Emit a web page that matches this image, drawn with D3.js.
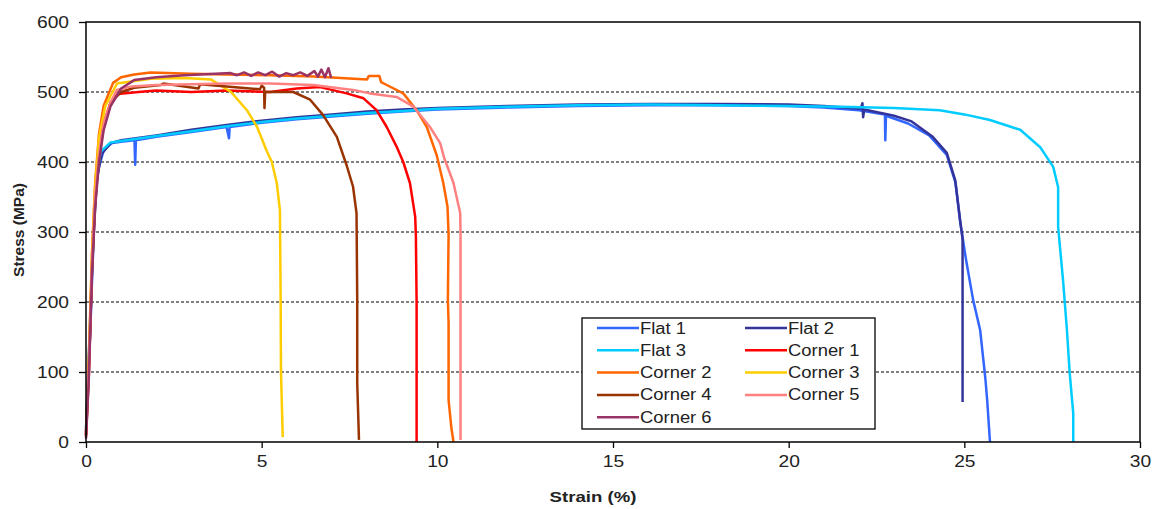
<!DOCTYPE html>
<html>
<head>
<meta charset="utf-8">
<style>
  body { margin: 0; background: #fff; }
  text { font-family: "Liberation Sans", Arial, sans-serif; fill: #222; }
</style>
</head>
<body>
<div id="chart"></div>
<script src="https://d3js.org/d3.v7.min.js"></script>
<script>
// tick labels
var xTicks = [0, 5, 10, 15, 20, 25, 30];
var yTicks = [0, 100, 200, 300, 400, 500, 600];

var names = ["Flat 1", "Flat 2", "Flat 3", "Corner 1", "Corner 2", "Corner 3", "Corner 4", "Corner 5", "Corner 6"];
var colors = ["#3366FF", "#333399", "#00CCFF", "#FF0000", "#FF6600", "#FFCC00", "#993300", "#FF8080", "#993366"];

// [strain %, stress MPa]
var flat1 = [[0,15],[0.05,80],[0.12,156],[0.22,299],[0.3,370],[0.37,393],[0.51,418],[0.74,427],[1.0,429],[1.38,431],[1.4,396],[1.42,431],[2,436],[3,443],[4,450],[4.07,434],[4.09,450],[5,456],[6,461],[7,465],[8,469],[9,472],[10,475],[12,478],[14,480],[16,481],[18,481],[20,480],[21,478],[22,474],[22.74,468],[22.75,431],[22.77,466],[23.4,455],[24,438],[24.5,410],[24.75,370],[24.88,315],[25.05,260],[25.25,203],[25.45,160],[25.6,90],[25.65,60],[25.73,0]];
var flat2 = [[0,10],[0.1,140],[0.2,290],[0.3,375],[0.45,412],[0.7,427],[1,431],[2,438],[3,446],[4,453],[5,459],[6,464],[7,468],[8,472],[9,475],[10,477],[12,480],[14,482],[16,483],[18,483],[20,482],[21,480],[22.05,476],[22.1,484],[22.12,464],[22.15,475],[23,466],[23.5,458],[24.1,436],[24.5,413],[24.74,374],[24.88,317],[24.95,290],[24.95,57]];
var flat3 = [[0,20],[0.1,150],[0.2,290],[0.3,380],[0.42,415],[0.7,428],[1,430],[2,437],[3,444],[4,451],[5,457],[6,462],[7,466],[8,470],[9,473],[10,476],[12,479],[14,481],[16,482],[18,481],[20,480],[21.46,479],[23,477],[24.3,474],[25,468],[25.73,460],[26.59,446],[27.16,421],[27.53,393],[27.67,364],[27.67,307],[27.81,231],[27.92,160],[28.0,98],[28.1,41],[28.1,0]];
var corner1 = [[0,10],[0.08,100],[0.17,250],[0.26,346],[0.37,410],[0.5,455],[0.7,485],[0.9,497],[1.5,500],[2,502],[3,500],[4,502],[5.24,500],[6,505],[6.66,507],[7.42,498],[7.9,491],[8.27,474],[8.56,450],[8.84,422],[9.03,400],[9.22,370],[9.37,322],[9.39,293],[9.41,200],[9.41,0]];
var corner2 = [[0,15],[0.08,120],[0.17,270],[0.26,370],[0.37,440],[0.5,480],[0.77,513],[1.0,521],[1.37,525],[1.84,528],[3,526],[4,525],[5.24,524],[6.5,522],[8.0,518],[8.05,523],[8.35,523],[8.4,514],[8.56,510],[9.03,498],[9.41,474],[9.7,450],[9.98,410],[10.17,370],[10.29,336],[10.32,297],[10.3,203],[10.32,170],[10.32,60],[10.4,20],[10.46,0]];
var corner3 = [[0,10],[0.08,110],[0.17,265],[0.26,365],[0.37,435],[0.55,480],[0.88,512],[1.84,519],[2.8,520],[3.55,518],[4.13,500],[4.58,474],[4.87,450],[5.15,415],[5.29,400],[5.43,370],[5.52,331],[5.54,203],[5.55,100],[5.6,7]];
var corner4 = [[0,8],[0.08,95],[0.17,245],[0.26,340],[0.37,405],[0.5,450],[0.7,485],[1.0,500],[1.37,506],[2.13,510],[2.2,512],[3.2,505],[3.25,511],[4.95,504],[5.0,509],[5.07,506],[5.08,477],[5.1,500],[5.9,500],[6.38,489],[6.75,467],[7.14,436],[7.42,395],[7.6,365],[7.7,327],[7.72,203],[7.72,84],[7.77,3]];
var corner5 = [[0,12],[0.08,105],[0.17,255],[0.26,350],[0.37,412],[0.5,455],[0.7,485],[0.88,503],[1.3,508],[2,510],[3,511],[4,512],[5.24,512],[6.47,510],[7.6,503],[8.08,498],[8.84,493],[9.32,479],[9.79,450],[10.08,427],[10.2,405],[10.35,385],[10.46,370],[10.65,327],[10.66,298],[10.66,3]];
var corner6 = [[0,5],[0.08,90],[0.17,240],[0.26,335],[0.37,400],[0.5,445],[0.7,480],[1.0,505],[1.37,517],[2,521],[2.8,524],[4.12,527],[4.3,524],[4.5,528],[4.7,523],[4.9,528],[5.1,524],[5.3,529],[5.5,522],[5.7,527],[5.9,524],[6.1,528],[6.3,523],[6.5,530],[6.6,522],[6.7,532],[6.8,521],[6.9,534],[6.98,520]];

var curves = [flat1, flat2, flat3, corner1, corner2, corner3, corner4, corner5, corner6];

var W = 1156, H = 509;
var plotL = 86, plotR = 1140, plotT = 22, plotB = 442;

var svg = d3.select("#chart").append("svg")
    .attr("width", W)
    .attr("height", H);

var x = d3.scaleLinear().domain([0, 30]).range([plotL, plotR]);
var y = d3.scaleLinear().domain([0, 600]).range([plotB, plotT]);

// the source picture is a bit wider than tall, so stretch flat text sideways
function widen(sel, k) {
  sel.each(function() {
    var w = this.getComputedTextLength();
    d3.select(this).attr("textLength", w * k).attr("lengthAdjust", "spacingAndGlyphs");
  });
}

// dashed grid lines
svg.selectAll(".grid")
   .data(yTicks.filter(function(d) { return d > 0 && d < 600; }))
   .enter().append("line")
   .attr("x1", plotL).attr("x2", plotR)
   .attr("y1", function(d) { return y(d); })
   .attr("y2", function(d) { return y(d); })
   .style("stroke", "#000")
   .style("stroke-width", 1)
   .style("stroke-dasharray", "3,2");

// curves
var line = d3.line()
    .x(function(d) { return x(d[0]); })
    .y(function(d) { return y(d[1]); });

curves.forEach(function(c, i) {
  svg.append("path")
     .attr("d", line(c))
     .style("fill", "none")
     .style("stroke", colors[i])
     .style("stroke-width", 2.5)
     .style("stroke-linejoin", "round");
});

// frame
svg.append("rect")
   .attr("x", plotL).attr("y", plotT)
   .attr("width", plotR - plotL).attr("height", plotB - plotT)
   .style("fill", "none")
   .style("stroke", "#000")
   .style("stroke-width", 1.5);

var xAxis = svg.append("g")
   .attr("transform", "translate(0," + plotB + ")")
   .call(d3.axisBottom(x).tickValues(xTicks).tickSize(6).tickPadding(8).tickFormat(d3.format("d")));
var yAxis = svg.append("g")
   .attr("transform", "translate(" + plotL + ",0)")
   .call(d3.axisLeft(y).tickValues(yTicks).tickSize(7).tickPadding(10).tickFormat(d3.format("d")));

[xAxis, yAxis].forEach(function(a) {
  a.select(".domain").remove();
  a.selectAll("line").style("stroke", "#000").style("stroke-width", 1.3);
  a.selectAll("text")
   .style("font-family", "'Liberation Sans', Arial, sans-serif")
   .style("font-size", "16px")
   .style("fill", "#222")
   .call(widen, 1.2);
});

// axis titles
svg.append("text")
   .text("Strain (%)")
   .attr("x", 593)
   .attr("y", 502)
   .style("text-anchor", "middle")
   .style("font-weight", "bold")
   .style("font-size", "15.5px")
   .call(widen, 1.2);

svg.append("text")
   .text("Stress (MPa)")
   .attr("transform", "translate(24,230) rotate(-90)")
   .style("text-anchor", "middle")
   .style("font-weight", "bold")
   .style("font-size", "15.5px");

// legend
var legend = svg.append("g");
legend.append("rect")
   .attr("x", 582).attr("y", 318)
   .attr("width", 293).attr("height", 111)
   .style("fill", "#fff")
   .style("stroke", "#000")
   .style("stroke-width", 1.3);

names.forEach(function(n, i) {
  var col = i % 2, row = Math.floor(i / 2);
  var lx = col === 0 ? 597 : 745;
  var ly = 328 + row * 22.3;
  legend.append("line")
     .attr("x1", lx).attr("x2", lx + 42)
     .attr("y1", ly).attr("y2", ly)
     .style("stroke", colors[i])
     .style("stroke-width", 2.5);
  legend.append("text")
     .text(n)
     .attr("x", lx + 43)
     .attr("y", ly + 5.5)
     .style("font-size", "16px")
     .call(widen, 1.15);
});
</script>
</body>
</html>
